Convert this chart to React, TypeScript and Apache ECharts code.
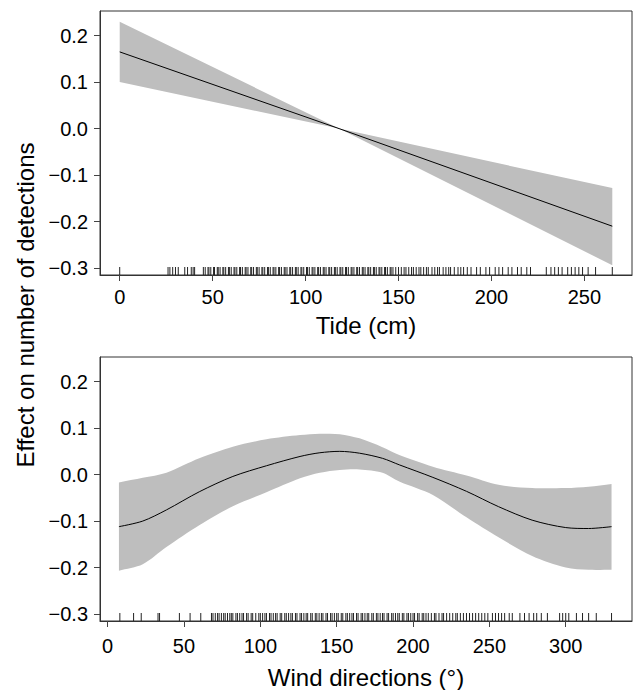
import React, { useEffect, useRef } from "react";
import * as echarts from "echarts";

// ---- Data ----
const xTicksTide = [0, 50, 100, 150, 200, 250];
const xTicksWind = [0, 50, 100, 150, 200, 250, 300];
const yTicks = [-0.3, -0.2, -0.1, 0, 0.1, 0.2];

const tideX = [0, 118, 265];
const tideFit = [0.165, 0.0, -0.21];
const tideUpper = [0.23, 0.0, -0.128];
const tideLower = [0.1, 0.0, -0.294];

const windX = [7.4, 23, 38.5, 60, 82, 104, 126, 139, 152, 165, 180, 191, 213, 235, 256, 278, 300, 315, 330];
const windFit = [-0.112, -0.1, -0.076, -0.037, -0.004, 0.019, 0.039, 0.047, 0.05, 0.046, 0.035, 0.021, -0.006, -0.036, -0.069, -0.098, -0.114, -0.116, -0.112];
const windUpper = [-0.017, -0.007, 0.004, 0.035, 0.06, 0.076, 0.085, 0.088, 0.087, 0.078, 0.059, 0.042, 0.017, -0.002, -0.022, -0.029, -0.029, -0.026, -0.02];
const windLower = [-0.207, -0.193, -0.156, -0.109, -0.068, -0.038, -0.008, 0.004, 0.01, 0.011, 0.004, -0.015, -0.044, -0.092, -0.135, -0.175, -0.2, -0.205, -0.205];

const tideRug = [
  0, 26, 27, 28.5, 30, 31.5, 35, 36.5, 38.5, 39.5, 40.3,
  45, 46, 47.5, 48, 49, 50.5, 51, 52.5, 53, 54, 55.5, 56, 57, 58.5, 59, 60, 61.5, 62, 63, 64.5, 65, 66,
  67.5, 68, 69, 70.5, 71, 72, 73.5, 74, 75, 76.5, 77, 78, 79.5, 80, 81, 82.5, 83, 84, 85.5, 86, 87, 88.5,
  89, 90, 91.5, 92, 93, 94.5, 95, 96, 97.5, 98, 99, 100.5, 101, 102, 103.5, 104, 105, 106.5, 107, 108,
  109.5, 110, 111, 112.5, 113, 114, 115.5, 116, 117, 118.5, 119, 120, 121.5, 122, 123, 124.5, 125, 126,
  127.5, 128, 129, 130.5, 131, 132, 133.5, 134, 135, 136.5, 137, 138, 139.5, 140, 141, 142.5, 143, 144,
  145.5, 146, 147, 148.5, 150, 151.5, 153, 154, 155.5, 157, 158, 159.5, 161, 162, 163.5, 165, 166, 168,
  169.5, 171, 172, 174, 175.5, 177, 178, 180, 182, 183.5, 185, 187, 189, 192, 194, 197, 199, 202, 204,
  206, 209, 211, 214, 216, 219, 221, 229.5, 232, 234, 236, 238, 241, 243, 245, 247, 249, 252, 256, 265,
];

const windRug = [
  8, 17, 22, 33, 34, 47, 54, 61,
  68, 69, 70.5, 72, 73, 74.5, 76, 77, 78.5, 80, 81, 82, 84, 85, 86.5, 88, 89, 91, 92, 94, 95, 97, 99, 100,
  101.5, 103, 104, 106, 107, 108.5, 110, 111, 113, 114, 116, 117, 118.5, 120, 121, 123, 124, 126, 127,
  128.5, 130, 131, 133, 134, 136, 137, 138.5, 140, 141, 143, 144, 146, 147, 148.5, 150, 151, 153, 154,
  156, 157, 158.5, 160, 161, 163, 164, 166, 167, 168.5, 170, 171, 173, 174, 176, 177, 178.5, 180, 181,
  183, 184, 186, 187, 188.5, 190, 191, 193, 194, 196, 197, 198.5, 200, 201, 203, 204, 206, 207, 208.5,
  210, 212, 214, 215, 217, 219, 220, 222, 224, 226, 228, 229, 231, 233, 235, 237, 239, 241, 243, 245,
  247, 249, 252, 254, 256, 258, 260, 263, 265, 270, 273, 276, 279, 281, 284, 288, 296, 298, 300, 302,
  307, 311, 315, 320, 330,
];

const Y_MIN = -0.315;
const Y_MAX = 0.253;

const FONT = "'Liberation Sans', Arimo, Arial, Helvetica, sans-serif";

function fmtY(v: number) {
  if (Math.abs(v) < 1e-9) return "0.0";
  return (v < 0 ? "\u2212" : "") + Math.abs(v).toFixed(1);
}

function zip(xs: number[], ys: number[]) {
  return xs.map((x, i) => [x, ys[i]]);
}

export default function App() {
  const ref = useRef<HTMLDivElement>(null);

  useEffect(() => {
    if (!ref.current) return;
    const chart = echarts.init(ref.current, undefined, { renderer: "svg" });

    const makeX = (gridIndex: number, min: number, max: number, ticks: number[], name: string, nameGap: number, labelMargin: number) => ({
      type: "value",
      gridIndex,
      min,
      max,
      name,
      nameLocation: "middle",
      nameGap,
      nameTextStyle: { fontFamily: FONT, fontSize: 24, color: "#000" },
      axisLine: { show: true, onZero: false, lineStyle: { color: "#333", width: 1 } },
      axisTick: { show: true, inside: false, length: 6, lineStyle: { color: "#444" }, customValues: ticks },
      axisLabel: { show: true, margin: labelMargin, fontFamily: FONT, fontSize: 20, color: "#000", customValues: ticks, formatter: (v: number) => String(v) },
      splitLine: { show: false },
    });

    const makeY = (gridIndex: number) => ({
      type: "value",
      gridIndex,
      min: Y_MIN,
      max: Y_MAX,
      axisLine: { show: true, onZero: false, lineStyle: { color: "#333", width: 1 } },
      axisTick: { show: true, inside: false, length: 6, lineStyle: { color: "#444" }, customValues: yTicks },
      axisLabel: { show: true, margin: 12, fontFamily: FONT, fontSize: 20, color: "#000", customValues: yTicks, formatter: fmtY },
      splitLine: { show: false },
    });

    const band = (idx: number, xs: number[], lo: number[], hi: number[], smooth: number) => ({
      type: "custom",
      xAxisIndex: idx,
      yAxisIndex: idx,
      data: xs.map((x, i) => [x, lo[i], hi[i]]),
      encode: { x: 0, y: [1, 2] },
      silent: true,
      z: 1,
      renderItem: (params: any, api: any) => {
        if (params.dataIndex !== 0) return null;
        const up = xs.map((x, i) => api.coord([x, hi[i]]));
        const down = xs.map((x, i) => api.coord([x, lo[i]])).reverse();
        // duplicate corner points so the smoothed outline keeps sharp vertical ends
        const pts = [up[0]].concat(up, [up[up.length - 1], down[0]], down, [down[down.length - 1]]);
        const mn = [Infinity, Infinity];
        const mx = [-Infinity, -Infinity];
        pts.forEach((p: number[]) => {
          mn[0] = Math.min(mn[0], p[0]);
          mn[1] = Math.min(mn[1], p[1]);
          mx[0] = Math.max(mx[0], p[0]);
          mx[1] = Math.max(mx[1], p[1]);
        });
        const shape: any = { points: pts };
        if (smooth > 0) {
          shape.smooth = smooth;
          shape.smoothConstraint = [mn, mx];
        }
        return {
          type: "polygon",
          shape,
          style: { fill: "#bebebe", stroke: "none" },
        };
      },
    });

    const fit = (idx: number, xs: number[], ys: number[], smooth: boolean | number) => ({
      type: "line",
      xAxisIndex: idx,
      yAxisIndex: idx,
      data: zip(xs, ys),
      symbol: "none",
      smooth,
      lineStyle: { color: "#000", width: 1 },
      silent: true,
      z: 3,
    });

    const rug = (idx: number, vals: number[]) => ({
      type: "custom",
      xAxisIndex: idx,
      yAxisIndex: idx,
      data: vals.map((v) => [v, Y_MIN]),
      clip: false,
      silent: true,
      z: 4,
      renderItem: (_params: any, api: any) => {
        const p = api.coord([api.value(0), api.value(1)]);
        return {
          type: "line",
          shape: { x1: p[0], y1: p[1], x2: p[0], y2: p[1] - 8 },
          style: { stroke: "#222", lineWidth: 1 },
        };
      },
    });

    chart.setOption({
      animation: false,
      backgroundColor: "#fff",
      grid: [
        { left: 100, top: 11, width: 532, height: 264, show: true, borderColor: "#333", borderWidth: 1, backgroundColor: "transparent" },
        { left: 100, top: 357, width: 532, height: 264, show: true, borderColor: "#333", borderWidth: 1, backgroundColor: "transparent" },
      ],
      xAxis: [
        makeX(0, -10.6, 275.6, xTicksTide, "Tide (cm)", 38, 12),
        makeX(1, -5.0, 343.4, xTicksWind, "Wind directions (°)", 44, 15),
      ],
      yAxis: [makeY(0), makeY(1)],
      graphic: [
        {
          type: "text",
          x: 25,
          y: 305,
          rotation: Math.PI / 2,
          style: {
            text: "Effect on number of detections",
            fontFamily: FONT,
            fontSize: 24,
            fill: "#000",
            align: "center",
            verticalAlign: "middle",
          },
        },
      ],
      series: [
        band(0, tideX, tideLower, tideUpper, 0),
        fit(0, tideX, tideFit, false),
        rug(0, tideRug),
        band(1, windX, windLower, windUpper, 0.3),
        fit(1, windX, windFit, 0.3),
        rug(1, windRug),
      ],
    });

    return () => chart.dispose();
  }, []);

  return (
    <div
      ref={ref}
      style={{ position: "absolute", left: 0, top: 0, width: 633, height: 690, background: "#fff" }}
    />
  );
}
